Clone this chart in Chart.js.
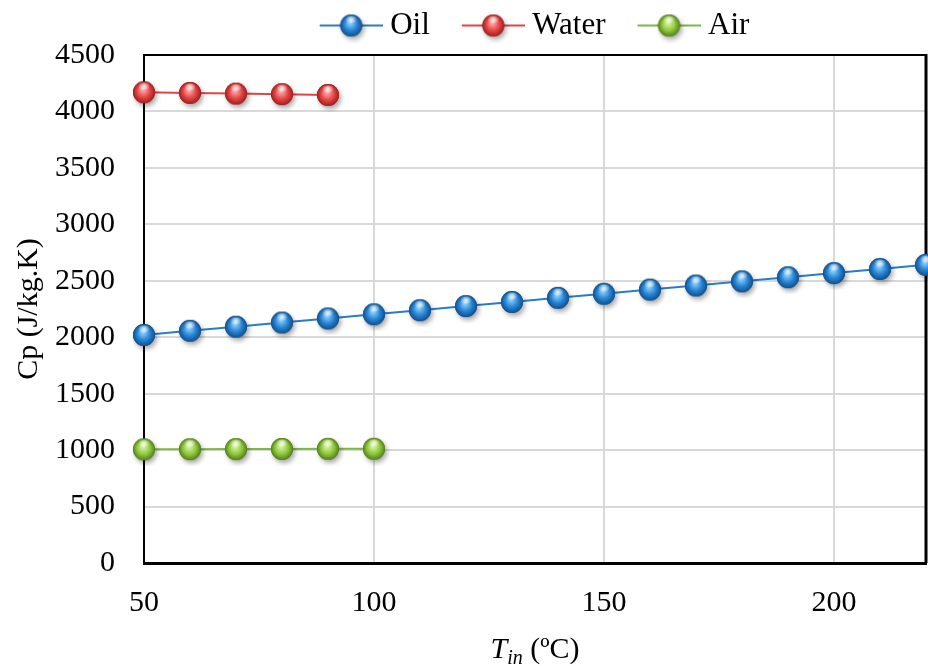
<!DOCTYPE html>
<html>
<head>
<meta charset="utf-8">
<script src="https://cdn.jsdelivr.net/npm/chart.js@4"></script>
<style>
  html, body { margin: 0; padding: 0; background: #fff; }
</style>
</head>
<body>
<canvas id="cp-chart" width="928" height="666"></canvas>
<script>
// values
const tempOil = [50, 60, 70, 80, 90, 100, 110, 120, 130, 140, 150, 160, 170, 180, 190, 200, 210, 220];
const cpOil = [2020, 2057, 2093, 2130, 2166, 2203, 2239, 2276, 2312, 2349, 2385, 2422, 2458, 2495, 2531, 2568, 2604, 2641];
const tempWater = [50, 60, 70, 80, 90];
const cpWater = [4170, 4164, 4158, 4153, 4146];
const tempAir = [50, 60, 70, 80, 90, 100];
const cpAir = [1007, 1008, 1009, 1010, 1011, 1012];
const seriesNames = ['Oil', 'Water', 'Air'];
const xTicks = [50, 100, 150, 200];
const yTicks = [0, 500, 1000, 1500, 2000, 2500, 3000, 3500, 4000, 4500];

const FONT = '"Liberation Serif", "Times New Roman", serif';

// glossy ball marker, optionally with a line behind it (for the legend)
function makeBall(base, light, dark, lineColor, width, lineFrom) {
  const h = 34;
  const c = document.createElement('canvas');
  c.width = width; c.height = h;
  const g = c.getContext('2d');
  const cx = lineColor ? lineFrom + 31.5 : width / 2;
  const cy = h / 2;
  const r = 11;
  if (lineColor) {
    g.strokeStyle = lineColor;
    g.lineWidth = 2;
    g.beginPath(); g.moveTo(lineFrom, cy); g.lineTo(lineFrom + 63, cy); g.stroke();
  }
  g.save();
  g.shadowColor = 'rgba(0,0,0,0.35)';
  g.shadowBlur = 5; g.shadowOffsetX = 2; g.shadowOffsetY = 3;
  g.fillStyle = dark;
  g.beginPath(); g.arc(cx, cy, r, 0, Math.PI * 2); g.fill();
  g.restore();
  const grad = g.createRadialGradient(cx - 1, cy - 3, 1, cx, cy, r);
  grad.addColorStop(0, light);
  grad.addColorStop(0.55, base);
  grad.addColorStop(1, dark);
  g.fillStyle = grad;
  g.beginPath(); g.arc(cx, cy, r, 0, Math.PI * 2); g.fill();
  const hl = g.createRadialGradient(cx, cy - 6, 0, cx, cy - 6, 6);
  hl.addColorStop(0, 'rgba(255,255,255,0.85)');
  hl.addColorStop(1, 'rgba(255,255,255,0)');
  g.fillStyle = hl;
  g.beginPath(); g.ellipse(cx, cy - 6, 6, 3.5, 0, 0, Math.PI * 2); g.fill();
  return c;
}

const colors = [
  { line: '#2a7cc4', base: '#2584d6', light: '#8fd0fa', dark: '#134f88' },
  { line: '#e04444', base: '#e64545', light: '#fbaaaa', dark: '#9c2020' },
  { line: '#7db843', base: '#8fc93c', light: '#d8f3a3', dark: '#567f1c' }
];
const ballIcons = colors.map(c => makeBall(c.base, c.light, c.dark, null, 34, 0));
const legendIcons = colors.map(c => makeBall(c.base, c.light, c.dark, c.line, 93, 30));

function toPoints(xs, ys) {
  return xs.map((x, i) => ({ x: x, y: ys[i] }));
}

const seriesData = [toPoints(tempOil, cpOil), toPoints(tempWater, cpWater), toPoints(tempAir, cpAir)];

const datasets = seriesNames.map((name, i) => ({
  label: name,
  data: seriesData[i],
  borderColor: colors[i].line,
  borderWidth: 2,
  pointStyle: ballIcons[i],
  pointRadius: 11,
  tension: 0,
  clip: false
}));

// top and right edges of the plot box
const frame = {
  id: 'frame',
  beforeDatasetsDraw(chart) {
    const { ctx, chartArea: a } = chart;
    ctx.save();
    ctx.strokeStyle = '#000';
    ctx.lineWidth = 2;
    ctx.beginPath(); ctx.moveTo(a.left - 1, a.top); ctx.lineTo(a.right, a.top); ctx.stroke();
    ctx.lineWidth = 3;
    ctx.beginPath(); ctx.moveTo(a.right, a.top - 1); ctx.lineTo(a.right, a.bottom); ctx.stroke();
    ctx.restore();
  }
};

// x title with italic T and subscript "in"
const xTitle = {
  id: 'xTitle',
  afterDraw(chart) {
    const { ctx, chartArea: a } = chart;
    const base = 658;
    const parts = [
      { t: 'T', f: 'italic 30px ' + FONT, dy: 0 },
      { t: 'in', f: 'italic 20px ' + FONT, dy: 6 },
      { t: ' (ºC)', f: '30px ' + FONT, dy: 0 }
    ];
    ctx.save();
    let total = 0;
    parts.forEach(p => { ctx.font = p.f; p.w = ctx.measureText(p.t).width; total += p.w; });
    let x = (a.left + a.right) / 2 - total / 2;
    ctx.fillStyle = '#000';
    ctx.textBaseline = 'alphabetic';
    parts.forEach(p => { ctx.font = p.f; ctx.fillText(p.t, x, base + p.dy); x += p.w; });
    ctx.restore();
  }
};

// legend: fixed height, row nudged left to line up with the original
const legendFix = {
  id: 'legendFix',
  afterInit(chart) {
    const lg = chart.legend;
    const fit = lg.fit;
    lg.fit = function () {
      fit.call(this);
      this.height = 55;
      this.lineWidths[0] += 23;
    };
  }
};

const plainNumber = v => String(v);

new Chart(document.getElementById('cp-chart'), {
  type: 'line',
  data: { datasets: datasets },
  options: {
    responsive: false,
    animation: false,
    events: [],
    layout: { autoPadding: false, padding: { left: 0, right: 2, top: 0, bottom: 0 } },
    plugins: {
      tooltip: { enabled: false },
      legend: {
        position: 'top',
        fullSize: false,
        labels: {
          usePointStyle: true,
          pointStyleWidth: 77,
          padding: 10,
          color: '#000',
          font: { family: FONT, size: 31 },
          generateLabels(chart) {
            return chart.data.datasets.map((ds, i) => ({
              text: ds.label,
              pointStyle: legendIcons[i],
              datasetIndex: i,
              hidden: false,
              lineWidth: 0,
              fontColor: '#000',
              fillStyle: 'transparent',
              strokeStyle: 'transparent'
            }));
          }
        }
      }
    },
    scales: {
      x: {
        type: 'linear',
        min: 50,
        max: 220,
        afterBuildTicks(scale) { scale.ticks = xTicks.map(v => ({ value: v })); },
        afterFit(scale) { scale.height = 103; scale.paddingLeft = 0; scale.paddingRight = 0; },
        ticks: { padding: 22, color: '#000', font: { family: FONT, size: 30 }, callback: plainNumber },
        grid: { color: '#d9d9d9', lineWidth: 2, drawTicks: false },
        border: { color: '#000', width: 3 }
      },
      y: {
        min: 0,
        max: 4500,
        afterBuildTicks(scale) { scale.ticks = yTicks.map(v => ({ value: v })); },
        afterFit(scale) { scale.width = 144; },
        ticks: { padding: 29, color: '#000', font: { family: FONT, size: 30 }, callback: plainNumber },
        grid: { color: '#d9d9d9', lineWidth: 2, drawTicks: false },
        border: { color: '#000', width: 2 },
        title: {
          display: true,
          text: 'Cp (J/kg.K)',
          color: '#000',
          font: { family: FONT, size: 30 },
          padding: { top: 11, bottom: 0 }
        }
      }
    }
  },
  plugins: [legendFix, frame, xTitle]
});
</script>
</body>
</html>
